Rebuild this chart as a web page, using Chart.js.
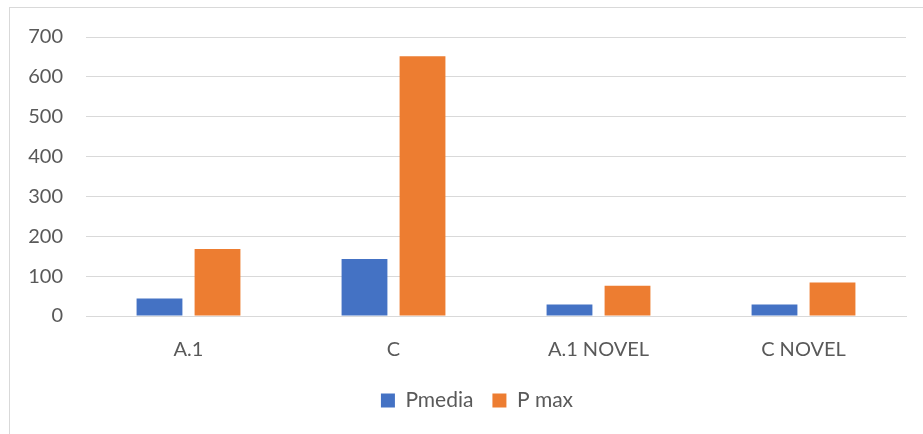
<!DOCTYPE html>
<html>
<head>
<meta charset="utf-8">
<script src="https://cdn.jsdelivr.net/npm/chart.js@4/dist/chart.umd.min.js"></script>
<style>
  html, body { margin: 0; padding: 0; background: #fff; overflow: hidden; }
  #frame { position: absolute; left: 9px; top: 7px; width: 1000px; height: 1000px; border: 1px solid #d9d9d9; }
  #wrap { position: absolute; left: 0; top: 0; width: 923px; height: 434px; }
</style>
</head>
<body>
<div id="frame"></div>
<div id="wrap"><canvas id="c" width="923" height="434"></canvas></div>
<script>
const categories = ["A.1", "C", "A.1 NOVEL", "C NOVEL"];
const pmedia = [44, 143, 29, 29];
const pmax = [168, 652, 76, 84];
const yTicks = [0, 100, 200, 300, 400, 500, 600, 700];

const textColor = "#595959";
const gridColor = "#d9d9d9";
const fontFamily = "Lato, 'Open Sans', sans-serif";

// Centre the legend under the plot area rather than the whole canvas.
const legendOffset = {
  id: "legendOffset",
  afterLayout(chart) {
    const lg = chart.legend;
    if (lg) { lg.left += 19; lg.right += 19; }
  }
};

new Chart(document.getElementById("c"), {
  type: "bar",
  data: {
    labels: categories,
    datasets: [
      { label: "Pmedia", data: pmedia, backgroundColor: "#4472C4", categoryPercentage: 0.566, barPercentage: 0.79 },
      { label: "P max", data: pmax, backgroundColor: "#ED7D31", categoryPercentage: 0.566, barPercentage: 0.79 }
    ]
  },
  plugins: [legendOffset],
  options: {
    responsive: false,
    animation: false,
    layout: { padding: { left: 10, right: 17, top: 37, bottom: 13 } },
    plugins: {
      tooltip: { enabled: false },
      legend: {
        position: "bottom",
        labels: {
          boxWidth: 14,
          boxHeight: 14,
          padding: 19,
          color: textColor,
          font: { family: fontFamily, size: 21 }
        }
      }
    },
    scales: {
      x: {
        grid: { display: false, drawTicks: false },
        border: { color: gridColor },
        ticks: { color: textColor, padding: 22, font: { family: fontFamily, size: 20 } },
        afterFit: (s) => { s.height = 55; }
      },
      y: {
        min: 0,
        max: 700,
        afterBuildTicks: (s) => { s.ticks = yTicks.map(v => ({ value: v })); },
        grid: { color: gridColor, lineWidth: 1, drawTicks: false },
        border: { display: false },
        ticks: { color: textColor, padding: 23, font: { family: fontFamily, size: 20 } },
        afterFit: (s) => { s.width = 76; }
      }
    }
  }
});
</script>
</body>
</html>
